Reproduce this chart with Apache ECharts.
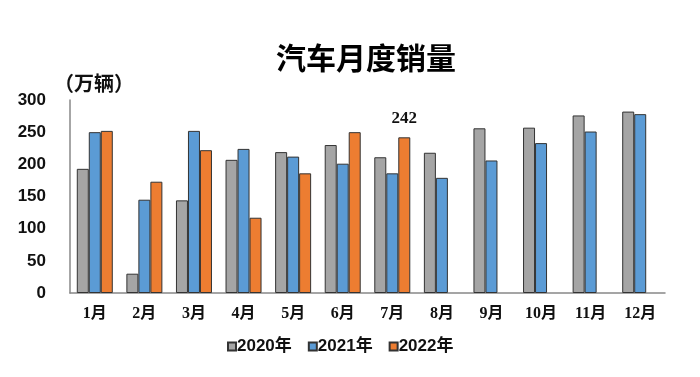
<!DOCTYPE html>
<html>
<head>
<meta charset="utf-8">
<script src="https://cdn.jsdelivr.net/npm/echarts@6/dist/echarts.min.js"></script>
<style>
  html, body { margin: 0; padding: 0; background: #fff; }
  #main { width: 700px; height: 377px; }
</style>
</head>
<body>
<div id="main"></div>
<script>
var months = ['1月', '2月', '3月', '4月', '5月', '6月', '7月', '8月', '9月', '10月', '11月', '12月'];
var sales2020 = [193, 30, 144, 207, 219, 230, 211, 218, 256, 257, 276, 282];
var sales2021 = [250, 145, 252, 224, 212, 201, 186, 179, 206, 233, 251, 278];
var sales2022 = [252, 173, 222, 117, 186, 250, 242];
var yTicks = [0, 50, 100, 150, 200, 250, 300];

var myChart = echarts.init(document.getElementById('main'));

var serifFont = '"Liberation Serif", "Noto Sans CJK SC", serif';
var sansFont = '"Liberation Sans", "Noto Sans CJK SC", sans-serif';

function barSeries(name, data, color) {
    return {
        name: name,
        type: 'bar',
        data: data,
        barWidth: 12,
        barGap: '0%',
        itemStyle: { color: color, borderColor: '#333', borderWidth: 1 }
    };
}

var s2022 = barSeries('2022年', sales2022, '#ed7d31');
// only the last month of 2022 carries a label
s2022.data = sales2022.map(function (v, i) {
    if (i === sales2022.length - 1) {
        return {
            value: v,
            label: {
                show: true, position: 'top', distance: 10,
                fontFamily: serifFont, fontWeight: 'bold', fontSize: 17, color: '#111'
            }
        };
    }
    return v;
});

option = {
    animation: false,
    backgroundColor: '#fff',
    title: {
        text: '汽车月度销量',
        left: 271,
        top: 38,
        textStyle: { fontFamily: '"Noto Sans CJK SC"', fontWeight: 'bold', fontSize: 30, color: '#000' }
    },
    graphic: [{
        type: 'text',
        left: 54,
        top: 73,
        style: { text: '（万辆）', font: 'bold 20px "Noto Sans CJK SC"', fill: '#111' }
    }],
    legend: {
        left: 222,
        top: 333,
        itemWidth: 8,
        itemHeight: 8,
        itemGap: 16,
        icon: 'rect',
        textStyle: { fontFamily: sansFont, fontWeight: 'bold', fontSize: 17, color: '#111', padding: [0, 0, 0, -4] },
        data: ['2020年', '2021年', '2022年']
    },
    grid: { left: 70, right: 35, top: 100, bottom: 84 },
    xAxis: {
        type: 'category',
        data: months,
        axisLine: { lineStyle: { color: '#888', width: 1.5 } },
        axisTick: { show: false },
        axisLabel: { margin: 13, fontFamily: serifFont, fontWeight: 'bold', fontSize: 16, color: '#111' }
    },
    yAxis: {
        type: 'value',
        min: yTicks[0],
        max: yTicks[yTicks.length - 1],
        interval: 50,
        splitLine: { show: false },
        axisLine: { show: true, lineStyle: { color: '#888', width: 1.5 } },
        axisTick: { show: false },
        axisLabel: { margin: 24, fontFamily: sansFont, fontWeight: 'bold', fontSize: 17, color: '#111' }
    },
    series: [
        barSeries('2020年', sales2020, '#a5a5a5'),
        barSeries('2021年', sales2021, '#5b9bd5'),
        s2022
    ]
};

myChart.setOption(option);
</script>
</body>
</html>
